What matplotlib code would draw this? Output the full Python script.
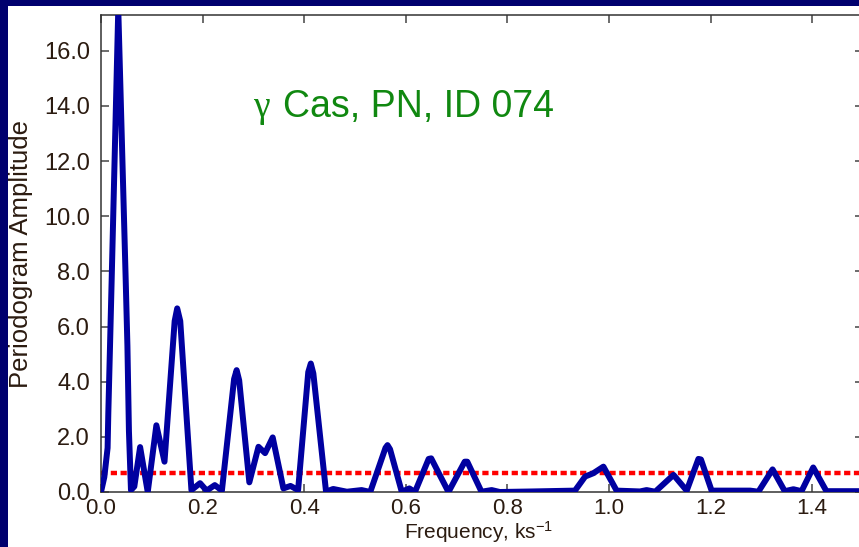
import matplotlib
matplotlib.use("Agg")
from matplotlib import pyplot as plt
from matplotlib.patches import Rectangle

plt.rcParams['font.family'] = ['Liberation Sans', 'DejaVu Sans']
plt.rcParams['mathtext.default'] = 'regular'

# periodogram read point by point (frequency in ks^-1)
freq = [0.0, 0.0065, 0.013, 0.0144, 0.0177, 0.021, 0.034, 0.0486, 0.052, 0.055,
        0.059, 0.0656, 0.077, 0.092, 0.109, 0.125, 0.145, 0.150, 0.156, 0.178,
        0.195, 0.208, 0.224, 0.238, 0.262, 0.267, 0.272, 0.292, 0.31, 0.323,
        0.338, 0.359, 0.373, 0.388, 0.408, 0.413, 0.418, 0.443, 0.457, 0.484,
        0.513, 0.53, 0.560, 0.564, 0.569, 0.592, 0.607, 0.618, 0.645, 0.650,
        0.684, 0.716, 0.721, 0.749, 0.769, 0.785, 0.85, 0.933, 0.953, 0.969,
        0.989, 1.015, 1.061, 1.074, 1.091, 1.127, 1.153, 1.176, 1.181, 1.202,
        1.278, 1.294, 1.322, 1.346, 1.363, 1.379, 1.402, 1.428, 1.5]
amp = [0.0, 0.54, 1.6, 2.86, 5.26, 7.7, 17.5, 7.7, 5.3, 2.2,
       0.07, 0.2, 1.63, 0.0, 2.42, 1.1, 6.2, 6.66, 6.2, 0.07,
       0.32, 0.05, 0.25, 0.05, 4.1, 4.42, 4.05, 0.35, 1.64, 1.41,
       1.98, 0.13, 0.22, 0.07, 4.35, 4.66, 4.3, 0.01, 0.11, 0.01,
       0.07, 0.0, 1.6, 1.7, 1.55, 0.01, 0.13, 0.0, 1.2, 1.22,
       0.0, 1.1, 1.1, 0.01, 0.07, 0.0, 0.02, 0.05, 0.56, 0.68,
       0.92, 0.05, 0.02, 0.07, 0.01, 0.62, 0.05, 1.2, 1.18, 0.05,
       0.05, 0.01, 0.82, 0.03, 0.1, 0.03, 0.89, 0.03, 0.03]
threshold = 0.7

xticks = [0.0, 0.2, 0.4, 0.6, 0.8, 1.0, 1.2, 1.4]
yticks = [0, 2, 4, 6, 8, 10, 12, 14, 16]

W, H = 859, 547
fig = plt.figure(figsize=(W / 100, H / 100), dpi=100, facecolor='#00006e')
fig.patches.append(Rectangle((8 / W, 0), 1, 1 - 6 / H, transform=fig.transFigure,
                             facecolor='white', edgecolor='none', zorder=-1))

ax = fig.add_axes([101 / W, 55 / H, 762 / W, 477 / H])
ax.plot(freq, amp, color='#0000a0', lw=4.3, solid_joinstyle='round', zorder=3)
ax.axhline(threshold, color='#ff0000', lw=3.2, dashes=[1.4, 0.8], zorder=2)

ax.set_xlim(0, 1.5)
ax.set_ylim(0, 17.3)
ax.set_xticks(xticks)
ax.set_yticks(yticks)
ax.set_xticklabels([f'{t:.1f}' for t in xticks])
ax.set_yticklabels([f'{t:.1f}' for t in yticks])

for s in ax.spines.values():
    s.set_color('#333333')
    s.set_linewidth(1.1)
ax.tick_params(direction='in', length=6, width=1.1, color='#444444',
               top=True, right=True, labelsize=17, labelcolor='#2b1b10')
ax.tick_params(axis='y', pad=8)
ax.tick_params(axis='x', pad=4, labelsize=16)

ax.set_ylabel('Periodogram Amplitude', fontsize=18.5, color='#2b1b10')
ax.yaxis.set_label_coords(-0.089, 0.5)
ax.set_xlabel('Frequency, ks$^{-1}$', fontsize=15, color='#2b1b10')

# put the x label just under the tick labels
fig.canvas.draw()
r = fig.canvas.get_renderer()
low = min(t.get_window_extent(r).y0 for t in ax.get_xticklabels())
ax.xaxis.set_label_coords(0.495, ax.transAxes.inverted().transform((0, low - 1))[1])

ax.text(0.1995, 0.786, '\u03b3', transform=ax.transAxes, fontsize=27,
        family=['Liberation Serif', 'DejaVu Serif'], color='#108810', va='baseline')
ax.text(0.239, 0.786, 'Cas, PN, ID 074', transform=ax.transAxes, fontsize=27,
        color='#108810', va='baseline')

fig.savefig('out.png', dpi=100, facecolor=fig.get_facecolor())
